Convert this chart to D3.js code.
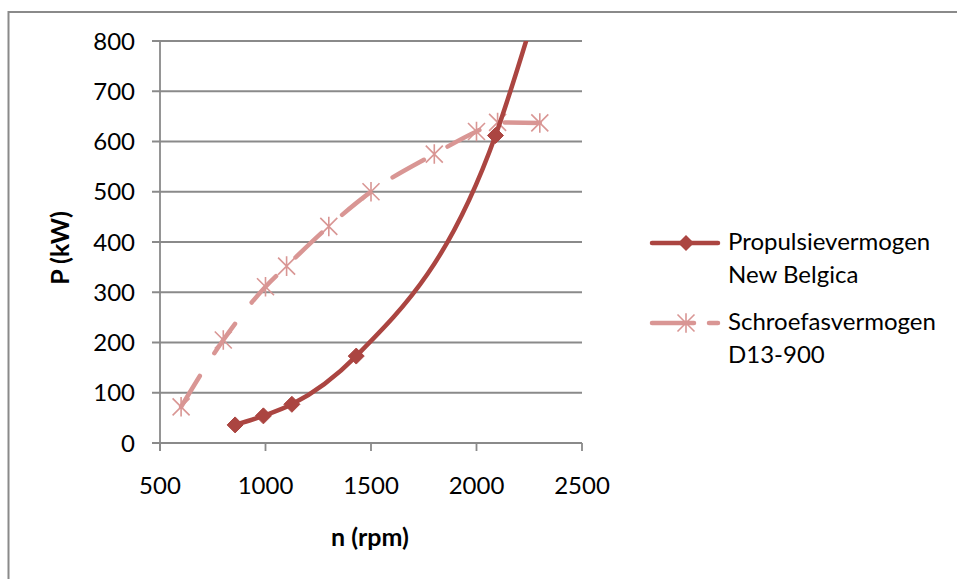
<!DOCTYPE html>
<html><head><meta charset="utf-8">
<script src="https://cdn.jsdelivr.net/npm/d3@7"></script>
<style>
html,body{margin:0;padding:0;background:#fff;}
svg text{font-family:Lato,"Open Sans",sans-serif;fill:#000;}
</style></head>
<body>
<svg id="chart" width="957" height="579"></svg>
<script>
// ---- data ----
const propRpm   = [856, 990, 1125, 1430, 2090, 2300];
const propPower = [36, 54, 77, 173, 612, 890];   // last point lies above the 800 axis max (clipped)
const shaftRpm   = [600, 800, 1000, 1100, 1300, 1500, 1800, 2000, 2100, 2300];
const shaftPower = [72, 205, 311, 352, 431, 500, 575, 620, 638, 637];
const xTicks = [500, 1000, 1500, 2000, 2500];
const yTicks = [0, 100, 200, 300, 400, 500, 600, 700, 800];
const seriesNames = [["Propulsievermogen", "New Belgica"], ["Schroefasvermogen", "D13-900"]];
const xTitle = "n (rpm)";
const yTitle = "P (kW)";

const svg = d3.select("#chart");
const dark = "#AB4541", pink = "#D99694", grid = "#8a8a8a";

// outer border
svg.append("rect").attr("x", 8.5).attr("y", 12).attr("width", 1000).attr("height", 600)
  .attr("fill", "none").attr("stroke", grid).attr("stroke-width", 2);

const x = d3.scaleLinear().domain([500, 2500]).range([160, 582]);
const y = d3.scaleLinear().domain([0, 800]).range([443, 41]);

// gridlines
svg.append("g").selectAll("line").data(yTicks).join("line")
  .attr("x1", 152).attr("x2", 582).attr("y1", d => y(d)).attr("y2", d => y(d))
  .attr("stroke", grid).attr("stroke-width", 1.8);

// axes
svg.append("line").attr("x1", x(500)).attr("x2", x(500)).attr("y1", y(800)).attr("y2", y(0) + 8)
  .attr("stroke", grid).attr("stroke-width", 1.8);
svg.append("g").selectAll("line").data(xTicks).join("line")
  .attr("x1", d => x(d)).attr("x2", d => x(d)).attr("y1", y(0)).attr("y2", y(0) + 8)
  .attr("stroke", grid).attr("stroke-width", 1.8);

// tick labels
svg.append("g").selectAll("text").data(yTicks).join("text")
  .attr("x", 135).attr("y", d => y(d)).attr("dy", "0.36em")
  .attr("text-anchor", "end").attr("font-size", 24).text(d => d);
svg.append("g").selectAll("text").data(xTicks).join("text")
  .attr("x", d => x(d)).attr("y", 494)
  .attr("text-anchor", "middle").attr("font-size", 24).text(d => d);

// axis titles
svg.append("text").attr("x", 370).attr("y", 546).attr("text-anchor", "middle")
  .attr("font-size", 25).attr("font-weight", "bold").text(xTitle);
svg.append("text").attr("transform", "translate(69,248) rotate(-90)").attr("text-anchor", "middle")
  .attr("font-size", 25).attr("font-weight", "bold").text(yTitle);

// clip
svg.append("clipPath").attr("id", "plotclip").append("rect")
  .attr("x", 150).attr("y", y(800)).attr("width", 450).attr("height", y(0) - y(800) + 10);

const line = d3.line().x(d => x(d[0])).y(d => y(d[1])).curve(d3.curveMonotoneX);
const propData = propRpm.map((r, i) => [r, propPower[i]]);
const shaftData = shaftRpm.map((r, i) => [r, shaftPower[i]]);

// series 2 (dashed pink)
svg.append("path").attr("d", line(shaftData)).attr("fill", "none")
  .attr("stroke", pink).attr("stroke-width", 4.5).attr("stroke-linecap", "round")
  .attr("stroke-dasharray", "36,27").attr("clip-path", "url(#plotclip)");

// star markers
function star(g, cx, cy, r) {
  g.append("path").attr("d",
    `M${cx - r},${cy - r}L${cx + r},${cy + r}M${cx - r},${cy + r}L${cx + r},${cy - r}M${cx},${cy - r * 1.15}L${cx},${cy + r * 1.15}`)
    .attr("stroke", pink).attr("stroke-width", 1.6).attr("fill", "none");
}
const sg = svg.append("g");
shaftData.forEach(d => star(sg, x(d[0]), y(d[1]), 8.5));

// series 1 (solid dark red)
svg.append("path").attr("d", line(propData)).attr("fill", "none")
  .attr("stroke", dark).attr("stroke-width", 4.5).attr("clip-path", "url(#plotclip)");
svg.append("g").selectAll("path").data(propData.filter(d => d[1] <= 800)).join("path")
  .attr("d", d => { const cx = x(d[0]), cy = y(d[1]), r = 8; return `M${cx},${cy - r}L${cx + r},${cy}L${cx},${cy + r}L${cx - r},${cy}Z`; })
  .attr("fill", dark).attr("stroke", dark).attr("stroke-width", 1);

// legend
const lg = svg.append("g");
lg.append("line").attr("x1", 652).attr("x2", 718).attr("y1", 243).attr("y2", 243)
  .attr("stroke", dark).attr("stroke-width", 4.5).attr("stroke-linecap", "round");
lg.append("path").attr("d", "M686,235L694,243L686,251L678,243Z").attr("fill", dark);
lg.append("line").attr("x1", 652).attr("x2", 718).attr("y1", 323).attr("y2", 323)
  .attr("stroke", pink).attr("stroke-width", 4.5).attr("stroke-linecap", "round")
  .attr("stroke-dasharray", "42,15");
star(lg, 686, 323, 8.5);
[[250, 282.5], [330, 362.5]].forEach((ys, i) => {
  ys.forEach((yy, j) => lg.append("text").attr("x", 728).attr("y", yy).attr("font-size", 24).text(seriesNames[i][j]));
});
</script>
</body></html>
